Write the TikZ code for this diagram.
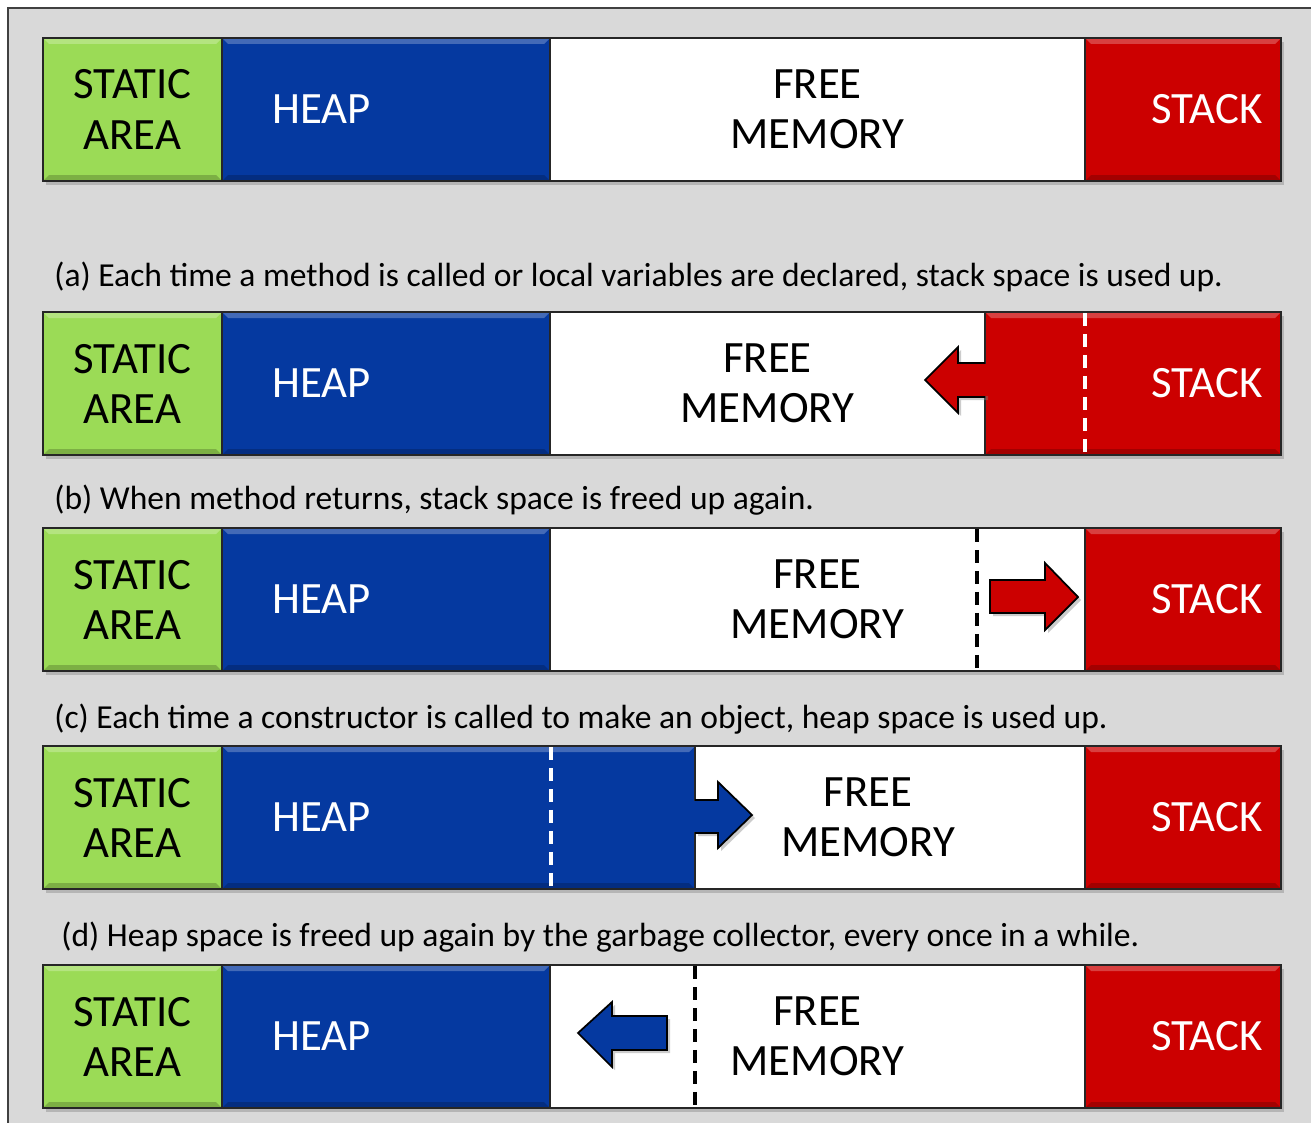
\documentclass[tikz,border=0pt]{standalone}
\usepackage{fontspec}
\setmainfont{Carlito}
\usetikzlibrary{positioning,shadows}
\definecolor{bggray}{RGB}{217,217,217}
\definecolor{sgreen}{RGB}{155,219,86}
\definecolor{hblue}{RGB}{5,57,160}
\definecolor{sred}{RGB}{204,0,0}
\def\unitpx{0.02cm}

\tikzset{
  seg/.style={draw=black!85, line width=1pt, minimum height=143*\unitpx, anchor=north west, inner sep=0pt, outer sep=0pt,
    drop shadow={shadow xshift=0.06cm, shadow yshift=-0.08cm, opacity=0.4},
    path picture={
      \fill[white,opacity=0.25] (path picture bounding box.north west) -- (path picture bounding box.north east)
        -- ([xshift=-0.12cm,yshift=-0.12cm]path picture bounding box.north east)
        -- ([xshift=0.12cm,yshift=-0.12cm]path picture bounding box.north west) -- cycle;
      \fill[black,opacity=0.2] (path picture bounding box.south west) -- (path picture bounding box.south east)
        -- ([xshift=-0.12cm,yshift=0.12cm]path picture bounding box.south east)
        -- ([xshift=0.12cm,yshift=0.12cm]path picture bounding box.south west) -- cycle;
    }},
  freeseg/.style={draw=black!85, line width=1pt, minimum height=143*\unitpx, anchor=north west, inner sep=0pt, outer sep=0pt, fill=white,
    drop shadow={shadow xshift=0.06cm, shadow yshift=-0.08cm, opacity=0.4}},
  lbl/.style={font=\fontsize{25.5}{28.5}\selectfont, align=center, inner sep=0pt},
  captext/.style={font=\fontsize{19.1}{22}\selectfont, anchor=west, inner sep=0pt},
  gap/.style={dash pattern=on 0.26cm off 0.16cm, line width=1.8pt},
  push/.style={draw=black, line width=1pt, drop shadow={shadow xshift=0.06cm, shadow yshift=-0.06cm, opacity=0.4}}
}

\begin{document}
\begin{tikzpicture}[x=0.02cm,y=0.02cm]
\useasboundingbox (0,0) rectangle (1311,-1122);
\fill[white] (0,0) rectangle (1311,-1122);
\draw[fill=bggray, draw=black!75, line width=1.2pt] (8,-8) rectangle (1340,-1150);

% row 0
\node[seg, fill=sgreen, minimum width=179*\unitpx] (st0) at (43,-38) {};
\node[seg, fill=hblue, minimum width=328*\unitpx] (hp0) at (st0.north east) {};
\node[freeseg, minimum width=535*\unitpx] (fr0) at (hp0.north east) {};
\node[seg, fill=sred, minimum width=196*\unitpx] (sk0) at (fr0.north east) {};
\node[lbl] at (st0) {STATIC\\AREA};
\node[lbl, white, right=1cm of hp0.west] {HEAP};
\node[lbl] at (fr0) {FREE\\MEMORY};
\node[lbl, white, left=0.36cm of sk0.east] {STACK};

\node[captext] (capa) at (54,-277) {(a) Each time a method is called or local variables are declared, stack space is used up.};

% row 1
\node[seg, fill=sgreen, minimum width=179*\unitpx] (st1) at (43,-312) {};
\node[seg, fill=hblue, minimum width=328*\unitpx] (hp1) at (st1.north east) {};
\node[freeseg, minimum width=435*\unitpx] (fr1) at (hp1.north east) {};
\node[seg, fill=sred, minimum width=296*\unitpx] (sk1) at (fr1.north east) {};
\node[lbl] at (st1) {STATIC\\AREA};
\node[lbl, white, right=1cm of hp1.west] {HEAP};
\node[lbl] at (fr1) {FREE\\MEMORY};
\node[lbl, white, left=0.36cm of sk1.east] {STACK};
\draw[gap, white] (1085,-313) -- (1085,-455);
\filldraw[push, fill=sred] (985,-363) -- (958,-363) -- (958,-347) -- (925,-380) -- (958,-413) -- (958,-397) -- (985,-397);
\fill[sred] (983,-364.2) rectangle (990,-395.8);

\node[captext] (capb) at (54,-500) {(b) When method returns, stack space is freed up again.};

% row 2
\node[seg, fill=sgreen, minimum width=179*\unitpx] (st2) at (43,-528) {};
\node[seg, fill=hblue, minimum width=328*\unitpx] (hp2) at (st2.north east) {};
\node[freeseg, minimum width=535*\unitpx] (fr2) at (hp2.north east) {};
\node[seg, fill=sred, minimum width=196*\unitpx] (sk2) at (fr2.north east) {};
\node[lbl] at (st2) {STATIC\\AREA};
\node[lbl, white, right=1cm of hp2.west] {HEAP};
\node[lbl] at (fr2) {FREE\\MEMORY};
\node[lbl, white, left=0.36cm of sk2.east] {STACK};
\draw[gap, black] (977,-529) -- (977,-671);
\filldraw[push, fill=sred] (990,-580) -- (1045,-580) -- (1045,-563) -- (1078,-597) -- (1045,-630) -- (1045,-613) -- (990,-613) -- cycle;

\node[captext] (capc) at (54,-719) {(c) Each time a constructor is called to make an object, heap space is used up.};

% row 3
\node[seg, fill=sgreen, minimum width=179*\unitpx] (st3) at (43,-746) {};
\node[seg, fill=hblue, minimum width=473*\unitpx] (hp3) at (st3.north east) {};
\node[freeseg, minimum width=390*\unitpx] (fr3) at (hp3.north east) {};
\node[seg, fill=sred, minimum width=196*\unitpx] (sk3) at (fr3.north east) {};
\node[lbl] at (st3) {STATIC\\AREA};
\node[lbl, white, right=1cm of hp3.west] {HEAP};
\node[lbl, xshift=-0.44cm] at (fr3) {FREE\\MEMORY};
\node[lbl, white, left=0.36cm of sk3.east] {STACK};
\draw[gap, white] (551,-747) -- (551,-888);
\filldraw[push, fill=hblue] (695,-800) -- (718,-800) -- (718,-782) -- (752,-815) -- (718,-848) -- (718,-833) -- (695,-833);
\fill[hblue] (690,-801.2) rectangle (697,-831.8);

\node[captext] (capd) at (61,-937) {(d) Heap space is freed up again by the garbage collector, every once in a while.};

% row 4
\node[seg, fill=sgreen, minimum width=179*\unitpx] (st4) at (43,-965) {};
\node[seg, fill=hblue, minimum width=328*\unitpx] (hp4) at (st4.north east) {};
\node[freeseg, minimum width=535*\unitpx] (fr4) at (hp4.north east) {};
\node[seg, fill=sred, minimum width=196*\unitpx] (sk4) at (fr4.north east) {};
\node[lbl] at (st4) {STATIC\\AREA};
\node[lbl, white, right=1cm of hp4.west] {HEAP};
\node[lbl] at (fr4) {FREE\\MEMORY};
\node[lbl, white, left=0.36cm of sk4.east] {STACK};
\draw[gap, black] (695,-966) -- (695,-1108);
\filldraw[push, fill=hblue] (667,-1016) -- (612,-1016) -- (612,-1002) -- (578,-1033) -- (612,-1067) -- (612,-1050) -- (667,-1050) -- cycle;
\end{tikzpicture}
\end{document}
